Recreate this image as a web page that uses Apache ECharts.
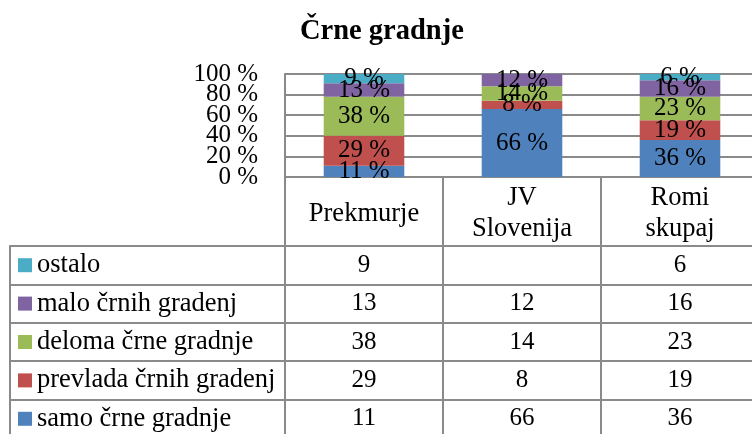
<!DOCTYPE html>
<html>
<head>
<meta charset="utf-8">
<script src="https://cdn.jsdelivr.net/npm/echarts@6/dist/echarts.min.js"></script>
<style>html,body{margin:0;padding:0;background:#fff}#c{width:752px;height:434px}</style>
</head>
<body>
<div id="c"></div>
<script>
var title = 'Črne gradnje';
var categories = ['Prekmurje', 'JV\nSlovenija', 'Romi\nskupaj'];
var seriesNames = ['samo črne gradnje', 'prevlada črnih gradenj', 'deloma črne gradnje', 'malo črnih gradenj', 'ostalo'];
var samo = [11, 66, 36];
var prevlada = [29, 8, 19];
var deloma = [38, 14, 23];
var malo = [13, 12, 16];
var ostalo = [9, null, 6];
var yTicks = [0, 20, 40, 60, 80, 100];
var colors = ['#4F81BD', '#C0504D', '#9BBB59', '#8064A2', '#4BACC6'];

var values = [samo, prevlada, deloma, malo, ostalo];
var FONT = 'Liberation Serif';
var LINE = '#8a8a8a';
var TFS = 26.5;

// table rows: category index 0 is the bottom row (samo), ostalo on top
var tableRows = seriesNames.slice();
var tableData = [];
values.forEach(function (arr, si) {
  arr.forEach(function (v, ci) {
    if (v !== null) tableData.push([ci, si, v]);
  });
});

var rich = {};
seriesNames.forEach(function (n, i) {
  rich['s' + i] = { backgroundColor: colors[i], width: 14, height: 14 };
});
rich.t = { fontFamily: FONT, fontSize: TFS, color: '#000', padding: [0, 0, 0, 5] };

var barSeries = values.map(function (arr, i) {
  return {
    name: seriesNames[i],
    type: 'bar',
    stack: 'total',
    xAxisIndex: 0, yAxisIndex: 0,
    barWidth: '51%',
    itemStyle: { color: colors[i] },
    data: arr.map(function (v) { return v === null ? '-' : v; }),
    label: {
      show: true, position: 'inside', formatter: '{c} %',
      fontFamily: FONT, fontSize: 25, color: '#000'
    },
    emphasis: { disabled: true }
  };
});

// y tick labels are split over two overlaid axes so that crowded labels are all kept
function yLabelAxis(keepEven, visibleLines) {
  return {
    gridIndex: 0, type: 'value', position: 'left',
    min: yTicks[0], max: yTicks[yTicks.length - 1], interval: yTicks[1] - yTicks[0],
    axisLine: { show: visibleLines, lineStyle: { color: LINE, width: 2 } },
    axisTick: { show: false },
    axisLabel: {
      margin: 27, showMinLabel: true, showMaxLabel: true,
      formatter: function (v) {
        var idx = yTicks.indexOf(v);
        return (idx % 2 === 0) === keepEven ? v + ' %' : '';
      },
      fontFamily: FONT, fontSize: 25, color: '#000'
    },
    splitLine: { show: visibleLines, lineStyle: { color: LINE, width: 2 } }
  };
}

var option = {
  animation: false,
  backgroundColor: '#fff',
  title: {
    text: title, left: 295, top: 12,
    textStyle: { fontFamily: FONT, fontSize: 28.5, fontWeight: 'bold', color: '#000' }
  },
  grid: [
    { left: 285, top: 74, width: 474, height: 103, outerBoundsMode: 'none', containLabel: false },
    { left: 285, top: 246, width: 474, height: 192, outerBoundsMode: 'none', containLabel: false }
  ],
  xAxis: [
    {
      gridIndex: 0, type: 'category', data: categories,
      axisLine: { show: true, lineStyle: { color: LINE, width: 2 } },
      axisTick: { show: true, length: 69, alignWithLabel: false, lineStyle: { color: LINE, width: 2 } },
      axisLabel: { interval: 0, margin: 37, verticalAlign: 'middle', lineHeight: 31, fontFamily: FONT, fontSize: TFS, color: '#000' },
      splitLine: { show: false }
    },
    {
      gridIndex: 1, type: 'category', data: categories, position: 'top',
      axisLine: { show: true, lineStyle: { color: LINE, width: 2 } },
      axisTick: { show: false }, axisLabel: { show: false },
      splitLine: { show: true, interval: 0, lineStyle: { color: LINE, width: 2 } }
    }
  ],
  yAxis: [
    yLabelAxis(true, true),
    {
      gridIndex: 1, type: 'category', data: tableRows,
      axisLine: { show: true, lineStyle: { color: LINE, width: 2 } },
      axisTick: { show: true, length: 275, alignWithLabel: false, interval: 0, lineStyle: { color: LINE, width: 2 } },
      axisLabel: {
        interval: 0, margin: 267, align: 'left',
        formatter: function (v) { var i = seriesNames.indexOf(v); return '{s' + i + '|}{t|' + v + '}'; },
        rich: rich
      },
      splitLine: { show: true, interval: 0, lineStyle: { color: LINE, width: 2 } }
    },
    {
      gridIndex: 1, type: 'category', data: tableRows, position: 'left', offset: 275,
      axisLine: { show: true, lineStyle: { color: LINE, width: 2 } },
      axisTick: { show: false }, axisLabel: { show: false }, splitLine: { show: false }
    },
    yLabelAxis(false, false)
  ],
  series: barSeries.concat([{
    type: 'scatter', xAxisIndex: 1, yAxisIndex: 1,
    data: tableData, symbolSize: 2, itemStyle: { color: 'rgba(0,0,0,0)', opacity: 1 },
    label: {
      show: true, position: 'inside',
      formatter: function (p) { return String(p.value[2]); },
      fontFamily: FONT, fontSize: 25, color: '#000'
    },
    emphasis: { disabled: true }
  }])
};
var chart = echarts.init(document.getElementById('c'), null, { renderer: 'canvas' });
chart.setOption(option);
</script>
</body>
</html>
